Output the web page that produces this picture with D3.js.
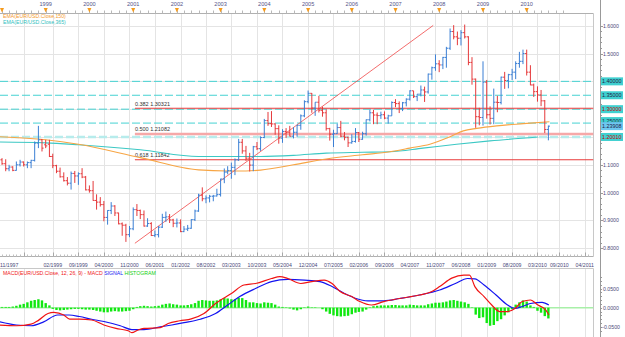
<!DOCTYPE html>
<html>
<head>
<meta charset="utf-8">
<script src="https://cdn.jsdelivr.net/npm/d3@7.9.0/dist/d3.min.js"></script>
<style>
  body { margin: 0; background: #fff; }
  svg { display: block; font-family: "Liberation Sans", Arial, sans-serif; }
</style>
</head>
<body>
<svg id="chart" width="625" height="337"></svg>
<script>
// monthly EUR/USD bars, first bar = Dec 1997, [open, high, low, close]
const firstMonth = "1997-12";
const ohlc = [
  [1.118,1.124,1.100,1.104],
  // 1998
  [1.104,1.120,1.077,1.086],[1.086,1.100,1.077,1.092],[1.092,1.095,1.077,1.080],[1.080,1.112,1.079,1.100],
  [1.100,1.118,1.094,1.110],[1.110,1.112,1.094,1.100],[1.100,1.112,1.088,1.108],[1.108,1.118,1.088,1.116],
  [1.116,1.184,1.112,1.178],[1.178,1.240,1.160,1.190],[1.190,1.193,1.148,1.160],[1.172,1.190,1.160,1.168],
  // 1999
  [1.174,1.190,1.128,1.130],[1.130,1.140,1.088,1.097],[1.097,1.100,1.070,1.077],[1.077,1.090,1.054,1.057],
  [1.057,1.073,1.040,1.043],[1.043,1.056,1.026,1.034],[1.034,1.076,1.011,1.069],[1.069,1.078,1.035,1.060],
  [1.060,1.073,1.028,1.068],[1.068,1.088,1.052,1.056],[1.056,1.060,1.008,1.010],[1.010,1.026,1.000,1.007],
  // 2000
  [1.007,1.042,0.971,0.972],[0.972,0.994,0.939,0.966],[0.966,0.984,0.950,0.957],[0.957,0.970,0.897,0.911],
  [0.911,0.937,0.885,0.936],[0.936,0.966,0.923,0.952],[0.952,0.955,0.916,0.927],[0.927,0.928,0.886,0.888],
  [0.888,0.893,0.845,0.883],[0.883,0.888,0.823,0.849],[0.849,0.880,0.840,0.870],[0.870,0.947,0.865,0.939],
  // 2001
  [0.939,0.959,0.916,0.936],[0.936,0.939,0.905,0.921],[0.921,0.936,0.878,0.880],[0.880,0.908,0.877,0.889],
  [0.889,0.894,0.844,0.846],[0.846,0.864,0.840,0.849],[0.849,0.880,0.839,0.876],[0.876,0.924,0.873,0.911],
  [0.911,0.932,0.895,0.913],[0.913,0.923,0.891,0.902],[0.902,0.906,0.876,0.890],[0.890,0.907,0.875,0.891],
  // 2002
  [0.891,0.904,0.858,0.860],[0.860,0.880,0.858,0.869],[0.869,0.884,0.862,0.872],[0.872,0.905,0.870,0.903],
  [0.903,0.939,0.898,0.934],[0.934,0.996,0.931,0.991],[0.991,1.019,0.969,0.978],[0.978,0.990,0.962,0.981],
  [0.981,0.992,0.965,0.987],[0.987,0.992,0.969,0.988],[0.988,1.014,0.986,0.993],[0.993,1.050,0.986,1.049],
  // 2003
  [1.049,1.087,1.034,1.074],[1.074,1.095,1.066,1.079],[1.079,1.108,1.050,1.091],[1.091,1.123,1.063,1.118],
  [1.118,1.193,1.114,1.181],[1.181,1.193,1.140,1.150],[1.150,1.168,1.114,1.124],[1.124,1.143,1.076,1.099],
  [1.099,1.168,1.077,1.165],[1.165,1.182,1.153,1.158],[1.158,1.202,1.150,1.198],[1.198,1.265,1.196,1.259],
  // 2004
  [1.259,1.290,1.240,1.248],[1.248,1.293,1.236,1.247],[1.247,1.249,1.208,1.230],[1.230,1.242,1.176,1.196],
  [1.196,1.228,1.179,1.220],[1.220,1.232,1.197,1.217],[1.217,1.240,1.202,1.203],[1.203,1.235,1.195,1.217],
  [1.217,1.244,1.201,1.242],[1.242,1.281,1.226,1.276],[1.276,1.332,1.271,1.327],[1.327,1.367,1.321,1.357],
  // 2005
  [1.357,1.358,1.287,1.304],[1.304,1.325,1.276,1.325],[1.325,1.348,1.288,1.296],[1.296,1.309,1.273,1.287],
  [1.287,1.299,1.223,1.230],[1.230,1.233,1.187,1.210],[1.210,1.226,1.164,1.212],[1.212,1.248,1.211,1.234],
  [1.234,1.258,1.199,1.203],[1.203,1.218,1.188,1.199],[1.199,1.201,1.164,1.179],[1.179,1.210,1.176,1.184],
  // 2006
  [1.184,1.232,1.180,1.216],[1.216,1.218,1.182,1.192],[1.192,1.219,1.190,1.212],[1.212,1.263,1.205,1.262],
  [1.262,1.298,1.256,1.287],[1.287,1.298,1.246,1.279],[1.279,1.288,1.246,1.277],[1.277,1.291,1.265,1.280],
  [1.280,1.292,1.264,1.268],[1.268,1.280,1.248,1.276],[1.276,1.328,1.276,1.324],[1.324,1.336,1.307,1.320],
  // 2007
  [1.320,1.328,1.286,1.302],[1.302,1.326,1.293,1.323],[1.323,1.339,1.310,1.336],[1.336,1.368,1.331,1.366],
  [1.366,1.366,1.340,1.345],[1.345,1.354,1.329,1.354],[1.354,1.385,1.346,1.369],[1.369,1.381,1.326,1.362],
  [1.362,1.428,1.356,1.426],[1.426,1.453,1.406,1.449],[1.449,1.497,1.438,1.463],[1.463,1.476,1.433,1.459],
  // 2008
  [1.459,1.488,1.444,1.486],[1.486,1.524,1.449,1.519],[1.519,1.590,1.513,1.579],[1.579,1.602,1.551,1.560],
  [1.560,1.579,1.530,1.555],[1.555,1.584,1.529,1.575],[1.575,1.604,1.554,1.560],[1.560,1.562,1.458,1.468],
  [1.468,1.487,1.388,1.408],[1.408,1.410,1.233,1.273],[1.273,1.305,1.242,1.270],[1.270,1.472,1.241,1.397],
  // 2009
  [1.397,1.405,1.266,1.280],[1.280,1.310,1.245,1.267],[1.267,1.374,1.246,1.325],[1.325,1.348,1.289,1.324],
  [1.324,1.417,1.317,1.415],[1.415,1.434,1.373,1.403],[1.403,1.427,1.375,1.424],[1.424,1.445,1.405,1.433],
  [1.433,1.472,1.408,1.464],[1.464,1.506,1.449,1.472],[1.472,1.514,1.462,1.500],[1.500,1.514,1.421,1.433],
  // 2010
  [1.433,1.458,1.386,1.387],[1.387,1.392,1.344,1.363],[1.363,1.382,1.327,1.351],[1.351,1.369,1.311,1.330],
  [1.330,1.333,1.214,1.227],[1.227,1.241,1.188,1.239]
];

const ema150 = [
  ["1997-12-15",1.201],["1999-01-01",1.190],["1999-10-01",1.174],["2001-03-01",1.126],["2002-07-01",1.082],
  ["2003-03-01",1.078],["2003-08-01",1.078],["2003-12-01",1.081],["2004-09-01",1.100],["2005-06-01",1.121],
  ["2006-04-01",1.136],["2006-11-15",1.147],["2007-05-01",1.160],["2007-10-15",1.174],["2008-04-01",1.201],
  ["2008-07-20",1.222],["2008-11-10",1.231],["2009-04-25",1.240],["2009-12-05",1.248],["2010-07-10",1.255]
];
const ema365 = [
  ["1997-12-15",1.182],["1999-01-01",1.179],["1999-10-01",1.172],["2001-03-01",1.154],["2002-07-01",1.130],
  ["2003-12-01",1.130],["2004-09-01",1.134],["2005-06-01",1.142],["2006-04-01",1.145],["2006-11-15",1.147],
  ["2007-08-18",1.160],["2008-05-25",1.174],["2009-02-28",1.186],["2010-04-05",1.200]
];

const fibLevels = [["0.382",1.30321],["0.500",1.21082],["0.618",1.11842]];
const fibStart = "2001-01-15";
const dashedLevels = [1.40, 1.35, 1.30, 1.25, 1.2001];
const trendLine = [["2001-01-15",0.818],["2007-11-12",1.601]];
const priceTags = [
  {v:1.40000, bg:"#3fd0d0", fg:"#224", dy:0},
  {v:1.35000, bg:"#3fd0d0", fg:"#224", dy:0},
  {v:1.30000, bg:"#3fd0d0", fg:"#c00", dy:0},
  {v:1.25000, bg:"#3fd0d0", fg:"#224", dy:-2},
  {v:1.23908, bg:"#6cc8f0", fg:"#224", dy:0},
  {v:1.20010, bg:"#3fd0d0", fg:"#c00", dy:0}
];

const yearTicks = [1998,1999,2000,2001,2002,2003,2004,2005,2006,2007,2008,2009,2010];
const bottomTicks = ["11/1997","06/1998","02/1999","09/1999","04/2000","11/2000","06/2001","01/2002","08/2002",
  "03/2003","10/2003","05/2004","12/2004","07/2005","02/2006","09/2006","04/2007","11/2007","06/2008",
  "01/2009","08/2009","03/2010","09/2010","04/2011"];
const hiddenBottomLabels = ["06/1998"];

const macdLine = [
  ["1997-12-01",-0.045],["1998-05-01",-0.047],["1998-09-01",-0.043],["1998-11-01",-0.033],["1999-01-20",-0.015],
  ["1999-03-10",-0.012],["1999-06-01",-0.019],["1999-07-20",-0.030],["1999-10-10",-0.030],["2000-01-20",-0.032],
  ["2000-05-01",-0.045],["2000-08-10",-0.054],["2000-11-20",-0.060],["2000-12-20",-0.065],["2001-02-10",-0.058],
  ["2001-04-01",-0.054],["2001-08-15",-0.052],["2001-10-20",-0.041],["2002-01-25",-0.034],["2002-05-01",-0.029],
  ["2002-08-15",-0.015],["2002-11-20",0.011],["2003-04-01",0.037],["2003-07-15",0.059],["2003-10-20",0.063],
  ["2004-03-01",0.076],["2004-05-10",0.081],["2004-07-15",0.076],["2004-11-01",0.063],["2005-02-01",0.068],
  ["2005-05-15",0.072],["2005-07-20",0.063],["2005-09-25",0.042],["2006-01-01",0.029],["2006-03-10",0.016],
  ["2006-06-15",0.007],["2006-09-25",0.016],["2007-02-05",0.024],["2007-07-20",0.033],["2007-11-01",0.042],
  ["2008-01-05",0.055],["2008-04-15",0.077],["2008-07-25",0.085],["2008-09-10",0.085],["2008-10-25",0.055],
  ["2009-01-10",0.029],["2009-03-15",0.007],["2009-05-20",-0.010],["2009-07-25",-0.010],["2009-09-25",-0.002],
  ["2009-11-25",0.016],["2010-02-01",0.020],["2010-04-05",0.007],["2010-06-10",-0.006],["2010-07-05",-0.019]
];
const signalLine = [
  ["1997-12-01",-0.036],["1998-05-01",-0.045],["1998-09-01",-0.047],["1998-12-15",-0.037],["1999-04-10",-0.019],
  ["1999-07-15",-0.019],["1999-10-10",-0.023],["2000-01-20",-0.030],["2000-05-01",-0.036],["2000-09-15",-0.047],
  ["2000-12-20",-0.057],["2001-04-01",-0.057],["2001-08-15",-0.050],["2001-11-20",-0.045],["2002-03-01",-0.039],
  ["2002-07-15",-0.030],["2002-11-20",-0.015],["2003-03-01",0.007],["2003-06-10",0.029],["2003-10-20",0.050],
  ["2004-03-01",0.068],["2004-07-15",0.074],["2004-12-01",0.072],["2005-04-10",0.068],["2005-07-20",0.055],
  ["2005-11-01",0.037],["2006-02-05",0.024],["2006-05-15",0.018],["2006-09-25",0.018],["2007-02-05",0.024],
  ["2007-07-20",0.033],["2008-01-05",0.046],["2008-05-15",0.063],["2008-08-25",0.076],["2008-10-25",0.075],
  ["2009-01-10",0.059],["2009-04-20",0.033],["2009-07-25",0.007],["2009-09-25",-0.002],["2009-11-25",0.003],
  ["2010-02-01",0.011],["2010-05-10",0.014],["2010-07-05",0.007]
];
// one histogram value per bar, Dec 1997 .. Jun 2010
const histogram = [
  0.002,
  0.002,0.002,0.003,0.005,0.008,0.010,0.014,0.018,0.020,0.022,0.019,0.012,
  0.006,-0.003,-0.006,-0.007,-0.006,-0.005,-0.004,-0.003,-0.003,-0.004,-0.005,-0.005,
  -0.006,-0.008,-0.010,-0.012,-0.012,-0.010,-0.009,-0.010,-0.010,-0.009,-0.008,-0.004,
  0.002,0.004,0.005,0.004,0.003,0.004,0.005,0.008,0.010,0.011,0.009,0.008,
  0.006,0.006,0.007,0.009,0.012,0.018,0.020,0.019,0.018,0.018,0.019,0.022,
  0.025,0.024,0.022,0.022,0.026,0.025,0.020,0.014,0.014,0.012,0.011,0.014,
  0.013,0.012,0.008,0.003,0.002,0.001,-0.002,-0.005,-0.007,-0.004,0.001,0.003,
  0.001,0.001,0.000,-0.004,-0.010,-0.016,-0.020,-0.022,-0.023,-0.022,-0.021,-0.017,
  -0.013,-0.011,-0.010,-0.005,0.001,0.004,0.005,0.006,0.006,0.006,0.007,0.007,
  0.006,0.006,0.006,0.008,0.007,0.006,0.006,0.006,0.009,0.011,0.013,0.013,
  0.014,0.016,0.019,0.020,0.018,0.016,0.014,0.010,0.001,-0.018,-0.027,-0.025,
  -0.040,-0.047,-0.045,-0.035,-0.030,-0.020,-0.012,-0.004,0.008,0.014,0.019,0.016,
  0.006,0.002,-0.008,-0.013,-0.022,-0.028
];
const macdTicks = [0.05, 0, -0.05];

// ---- layout ----
const W = 625, H = 337;
const plotL = 0, plotR = 593.5, plotT = 13.5, plotB = 256.5;
const axisX = 600;
const macdT = 268.5, macdB = 337;

const parse = d3.timeParse("%Y-%m-%d");
const parseMY = d3.timeParse("%m/%Y");
const start = d3.timeParse("%Y-%m")(firstMonth);

const x = d3.scaleTime()
  .domain([new Date(1999, 0, 1), new Date(2010, 0, 1)])
  .range([45.7, 526.7]);
const y = d3.scaleLinear().domain([0.8, 1.6]).range([248.3, 25.7]);
const ym = d3.scaleLinear().domain([-0.05, 0.05]).range([326.9, 288.5]);

// a bar is drawn at the end of its month
const barX = i => x(d3.timeMonth.offset(start, i + 1));

const svg = d3.select("#chart");
svg.append("rect").attr("width", W).attr("height", H).attr("fill", "#fff");

svg.append("defs").append("clipPath").attr("id", "plotClip")
  .append("rect").attr("x", plotL).attr("y", plotT).attr("width", plotR - plotL).attr("height", plotB - plotT);
svg.select("defs").append("clipPath").attr("id", "macdClip")
  .append("rect").attr("x", plotL).attr("y", macdT).attr("width", plotR - plotL).attr("height", macdB - macdT);

// ---- grid ----
const grid = svg.append("g").attr("stroke", "#e4e4e4").attr("stroke-width", 1);
d3.range(0.8, 1.61, 0.1).forEach(v => {
  grid.append("line").attr("x1", plotL).attr("x2", plotR)
    .attr("y1", Math.round(y(v)) + 0.5).attr("y2", Math.round(y(v)) + 0.5);
});
const tickX = s => x(d3.timeMonth.offset(parseMY(s), 1));
bottomTicks.forEach(s => {
  const gx = Math.round(tickX(s)) + 0.5;
  grid.append("line").attr("x1", gx).attr("x2", gx).attr("y1", plotT).attr("y2", plotB);
  grid.append("line").attr("x1", gx).attr("x2", gx).attr("y1", macdT).attr("y2", macdB);
});

// ---- top axis (years) ----
const topAx = svg.append("g");
topAx.append("line").attr("x1", 0).attr("x2", plotR).attr("y1", plotT).attr("y2", plotT).attr("stroke", "#b0b0b0");
d3.timeMonth.every(2).range(new Date(1997, 11, 1), new Date(2011, 0, 1)).forEach(d => {
  const tx = Math.round(x(d)) + 0.5;
  if (tx > plotR) return;
  topAx.append("line").attr("x1", tx).attr("x2", tx).attr("y1", plotT - 3).attr("y2", plotT)
    .attr("stroke", "#b8b8b8");
});
yearTicks.forEach(yr => {
  const tx = x(new Date(yr, 0, 1));
  topAx.append("path")
    .attr("d", `M${tx - 2},${8} L${tx + 2},${8} L${tx},${12.5} Z`)
    .attr("fill", "#f59a1b");
  if (yr >= 1999) {
    topAx.append("text").attr("x", tx).attr("y", 6.2).attr("text-anchor", "middle")
      .attr("font-size", 5.6).attr("fill", "#55558a").text(String(yr));
  }
});

// ---- bottom axis ----
const botAx = svg.append("g");
botAx.append("line").attr("x1", 0).attr("x2", plotR).attr("y1", plotB).attr("y2", plotB).attr("stroke", "#b0b0b0");
d3.timeMonth.range(new Date(1997, 11, 1), new Date(2011, 6, 1)).forEach(d => {
  const tx = Math.round(x(d)) + 0.5;
  if (tx > plotR) return;
  botAx.append("line").attr("x1", tx).attr("x2", tx).attr("y1", plotB - 2).attr("y2", plotB).attr("stroke", "#c0c0c0");
});
bottomTicks.forEach(s => {
  const tx = tickX(s);
  const gx = Math.round(tx) + 0.5;
  botAx.append("line").attr("x1", gx).attr("x2", gx).attr("y1", plotB - 4).attr("y2", plotB).attr("stroke", "#a8a8a8");
  if (hiddenBottomLabels.includes(s)) return;
  const left = tx < 10;
  botAx.append("text").attr("x", left ? 0 : tx).attr("y", 266.5)
    .attr("text-anchor", left ? "start" : "middle")
    .attr("font-size", 5.2).attr("fill", "#4a4a7a").text(s);
});

// ---- right axis ----
const rAx = svg.append("g");
rAx.append("line").attr("x1", plotR).attr("x2", plotR).attr("y1", plotT).attr("y2", plotB).attr("stroke", "#c8c8c8");
rAx.append("line").attr("x1", plotR).attr("x2", plotR).attr("y1", macdT).attr("y2", macdB).attr("stroke", "#c8c8c8");
rAx.append("line").attr("x1", axisX + 0.5).attr("x2", axisX + 0.5).attr("y1", 0).attr("y2", H).attr("stroke", "#999");
d3.range(0.8, 1.62, 0.02).forEach(v => {
  const ty = Math.round(y(v)) + 0.5;
  const major = Math.abs(v * 10 - Math.round(v * 10)) < 1e-6;
  rAx.append("line").attr("x1", axisX).attr("x2", axisX + (major ? 3 : 2)).attr("y1", ty).attr("y2", ty).attr("stroke", "#999");
});
// grid labels hidden behind a price tag are not drawn
d3.range(0.8, 1.61, 0.1).forEach(v => {
  if (priceTags.some(t => Math.abs(y(t.v) - y(v)) < 7)) return;
  rAx.append("text").attr("x", axisX + 3).attr("y", y(v) + 2).attr("font-size", 5.2)
    .attr("fill", "#4a4a7a").text(d3.format(".4f")(v));
});

// ---- MACD panel frame ----
svg.append("line").attr("x1", 0).attr("x2", plotR).attr("y1", macdT).attr("y2", macdT).attr("stroke", "#c8c8c8");
d3.range(-0.06, 0.09, 0.01).forEach(v => {
  const ty = Math.round(ym(v)) + 0.5;
  if (ty < macdT || ty > macdB) return;
  rAx.append("line").attr("x1", axisX).attr("x2", axisX + 2).attr("y1", ty).attr("y2", ty).attr("stroke", "#999");
});
macdTicks.forEach(v => {
  rAx.append("text").attr("x", axisX + (v < 0 ? 1 : 3)).attr("y", ym(v) + 2).attr("font-size", 5.2)
    .attr("fill", "#4a4a7a").text(d3.format(".4f")(v));
});

// ---- main plot content ----
const plot = svg.append("g").attr("clip-path", "url(#plotClip)");

// dashed horizontal levels
dashedLevels.forEach((v, i) => {
  const last = i === dashedLevels.length - 1;
  plot.append("line").attr("x1", plotL).attr("x2", plotR).attr("y1", y(v)).attr("y2", y(v))
    .attr("stroke", last ? "#b7ecec" : "#45d2d2").attr("stroke-width", last ? 2.5 : 1)
    .attr("stroke-dasharray", "8,3");
});

// fibonacci retracement lines
fibLevels.forEach(([r, v]) => {
  const mid = r === "0.500";
  plot.append("line").attr("x1", x(parse(fibStart))).attr("x2", plotR).attr("y1", y(v)).attr("y2", y(v))
    .attr("stroke", mid ? "#f6a8a8" : "#e83a3a").attr("stroke-width", mid ? 2.5 : 1.1);
  plot.append("text").attr("x", x(parse(fibStart))).attr("y", y(v) - 2.5).attr("font-size", 5.5)
    .attr("fill", "#333").text(`${r} ${d3.format(".5f")(v)}`);
});

// EMAs
const emaLine = d3.line().x(d => x(parse(d[0]))).y(d => y(d[1])).curve(d3.curveMonotoneX);
plot.append("path").attr("d", emaLine(ema365)).attr("fill", "none").attr("stroke", "#3cc8c4").attr("stroke-width", 1.1);
plot.append("path").attr("d", emaLine(ema150)).attr("fill", "none").attr("stroke", "#f7a544").attr("stroke-width", 1.1);

// trend line
plot.append("line")
  .attr("x1", x(parse(trendLine[0][0]))).attr("y1", y(trendLine[0][1]))
  .attr("x2", x(parse(trendLine[1][0]))).attr("y2", y(trendLine[1][1]))
  .attr("stroke", "#f04848").attr("stroke-width", 0.8);

// OHLC bars
const bars = plot.append("g").attr("stroke-width", 1);
ohlc.forEach(([o, h, l, c], i) => {
  const bx = barX(i);
  const col = c >= o ? "#3b7fd4" : "#e5393b";
  const g = bars.append("g").attr("stroke", col);
  g.append("line").attr("x1", bx).attr("x2", bx).attr("y1", y(h)).attr("y2", y(l));
  g.append("line").attr("x1", bx - 1.6).attr("x2", bx).attr("y1", y(o)).attr("y2", y(o));
  g.append("line").attr("x1", bx).attr("x2", bx + 1.6).attr("y1", y(c)).attr("y2", y(c));
});

// legend
svg.append("text").attr("x", 3).attr("y", 18).attr("font-size", 5.2).attr("fill", "#f39a30").text("EMA(EUR/USD.Close,150)");
svg.append("text").attr("x", 3).attr("y", 24).attr("font-size", 5.2).attr("fill", "#31c0c0").text("EMA(EUR/USD.Close,365)");

// price tags on the right axis (1.25000 sits partly under 1.23908)
priceTags.forEach(t => {
  const ty = y(t.v) + t.dy;
  const g = svg.append("g");
  g.append("rect").attr("x", axisX + 1).attr("y", ty - 4).attr("width", 22).attr("height", 8).attr("fill", t.bg);
  g.append("text").attr("x", axisX + 2).attr("y", ty + 2).attr("font-size", 5.4).attr("fill", t.fg)
    .text(d3.format(".5f")(t.v));
});

// ---- MACD panel content ----
const macd = svg.append("g").attr("clip-path", "url(#macdClip)");
macd.append("line").attr("x1", plotL).attr("x2", plotR).attr("y1", ym(0)).attr("y2", ym(0))
  .attr("stroke", "#a8f0a8").attr("stroke-width", 1.5);
macd.selectAll("rect.h").data(histogram).join("rect").attr("class", "h")
  .attr("x", (d, i) => barX(i) - 1.2).attr("width", 2.4)
  .attr("y", d => Math.min(ym(d), ym(0))).attr("height", d => Math.abs(ym(d) - ym(0)))
  .attr("fill", "#10e810");
const mLine = d3.line().x(d => x(parse(d[0]))).y(d => ym(d[1])).curve(d3.curveMonotoneX);
macd.append("path").attr("d", mLine(signalLine)).attr("fill", "none").attr("stroke", "#1414f0").attr("stroke-width", 1.2);
macd.append("path").attr("d", mLine(macdLine)).attr("fill", "none").attr("stroke", "#f01414").attr("stroke-width", 1.2);

const lab = svg.append("text").attr("x", 3).attr("y", 275).attr("font-size", 5.2);
lab.append("tspan").attr("fill", "#f02020").text("MACD(EUR/USD.Close, 12, 26, 9) - MACD ");
lab.append("tspan").attr("fill", "#2020f0").text("SIGNAL ");
lab.append("tspan").attr("fill", "#10d010").text("HISTOGRAM");
</script>
</body>
</html>
